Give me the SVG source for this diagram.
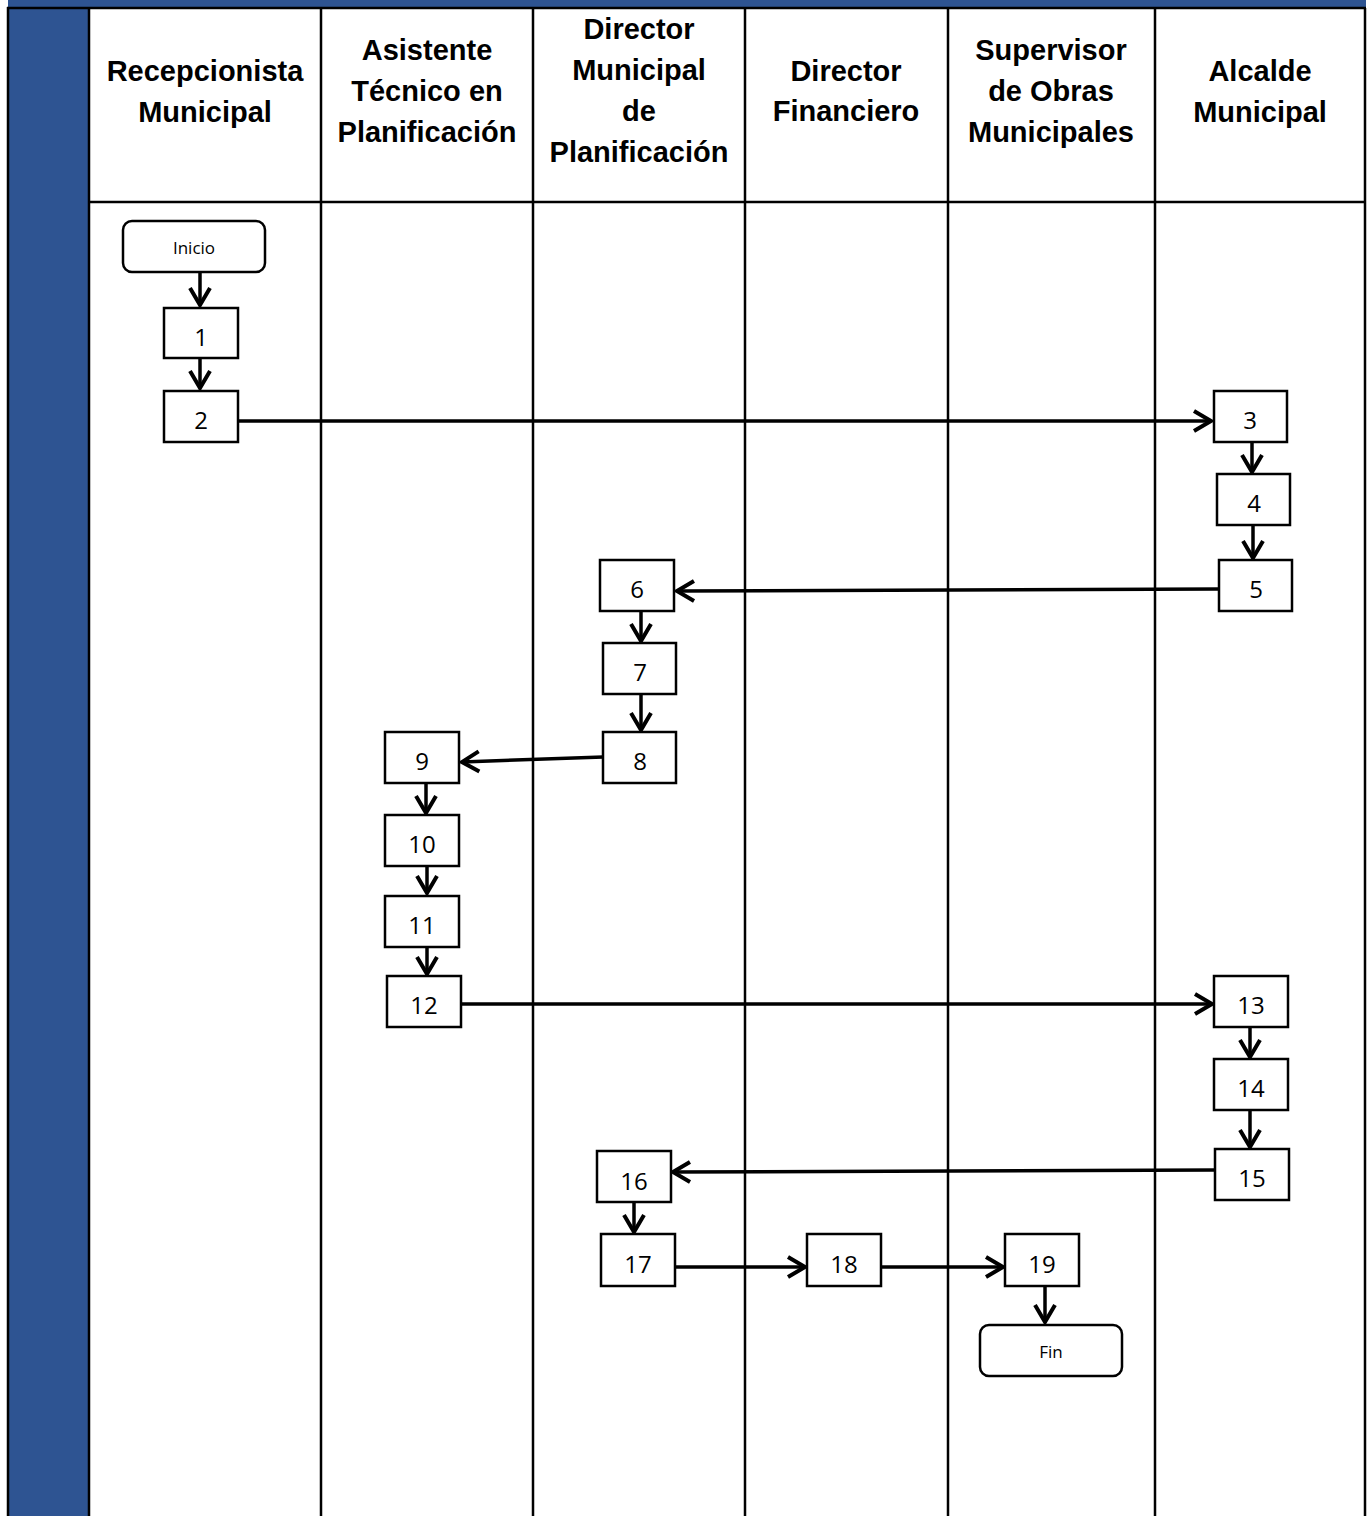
<svg xmlns="http://www.w3.org/2000/svg" width="1368" height="1516" viewBox="0 0 1368 1516">
<defs>
<style>
.hdr{font-family:"Liberation Sans",Arial,sans-serif;font-weight:bold;font-size:29px;fill:#000;text-anchor:middle}
.box{fill:#fff;stroke:#000;stroke-width:2.5}
.num{font-family:"Open Sans","Liberation Sans",sans-serif;font-size:24px;fill:#000;text-anchor:middle}
.term{font-family:"Open Sans","Liberation Sans",sans-serif;font-size:17px;fill:#000;text-anchor:middle}
.grid{stroke:#000;stroke-width:2.5;fill:none}
.con{stroke:#000;stroke-width:3.5;fill:none;marker-end:url(#arr)}
</style>
<marker id="arr" markerUnits="userSpaceOnUse" viewBox="-22 -14 26 28" refX="0" refY="0" markerWidth="26" markerHeight="28" orient="auto">
<path d="M-17,-10 L0,0 L-17,10" fill="none" stroke="#000" stroke-width="4" stroke-linejoin="miter"/>
</marker>
</defs>
<rect x="0" y="0" width="1368" height="1516" fill="#fff"/>
<g id="frame">
<rect x="8" y="0" width="1358" height="8" fill="#2E5492"/>
<rect x="8" y="8" width="81" height="1508" fill="#2E5492"/>
<line class="grid" x1="7" y1="8" x2="1366" y2="8"/>
<line class="grid" x1="8" y1="7" x2="8" y2="1516"/>
<line class="grid" x1="89" y1="8" x2="89" y2="1516"/>
<line class="grid" x1="321" y1="8" x2="321" y2="1516"/>
<line class="grid" x1="533" y1="8" x2="533" y2="1516"/>
<line class="grid" x1="745" y1="8" x2="745" y2="1516"/>
<line class="grid" x1="948" y1="8" x2="948" y2="1516"/>
<line class="grid" x1="1155" y1="8" x2="1155" y2="1516"/>
<line class="grid" x1="1365" y1="8" x2="1365" y2="1516"/>
<line class="grid" x1="89" y1="202" x2="1366" y2="202"/>
</g>
<g id="headers">
<text class="hdr" x="205" y="81">Recepcionista</text>
<text class="hdr" x="205" y="122">Municipal</text>
<text class="hdr" x="427" y="60">Asistente</text>
<text class="hdr" x="427" y="101">Técnico en</text>
<text class="hdr" x="427" y="142">Planificación</text>
<text class="hdr" x="639" y="39">Director</text>
<text class="hdr" x="639" y="80">Municipal</text>
<text class="hdr" x="639" y="121">de</text>
<text class="hdr" x="639" y="162">Planificación</text>
<text class="hdr" x="846" y="81">Director</text>
<text class="hdr" x="846" y="121">Financiero</text>
<text class="hdr" x="1051" y="60">Supervisor</text>
<text class="hdr" x="1051" y="101">de Obras</text>
<text class="hdr" x="1051" y="142">Municipales</text>
<text class="hdr" x="1260" y="81">Alcalde</text>
<text class="hdr" x="1260" y="122">Municipal</text>
</g>
<g id="connectors">
<line class="con" x1="200" y1="273" x2="200" y2="305"/>
<line class="con" x1="200" y1="358" x2="200" y2="388"/>
<line class="con" x1="238" y1="421" x2="1211" y2="421"/>
<line class="con" x1="1252" y1="442" x2="1252" y2="472"/>
<line class="con" x1="1253" y1="525" x2="1253" y2="558"/>
<line class="con" x1="1219" y1="589" x2="677" y2="591"/>
<line class="con" x1="641" y1="611" x2="641" y2="641"/>
<line class="con" x1="641" y1="694" x2="641" y2="730"/>
<line class="con" x1="603" y1="757" x2="462" y2="762"/>
<line class="con" x1="426" y1="783" x2="426" y2="813"/>
<line class="con" x1="427" y1="866" x2="427" y2="893"/>
<line class="con" x1="427" y1="947" x2="427" y2="974"/>
<line class="con" x1="461" y1="1004" x2="1212" y2="1004"/>
<line class="con" x1="1250" y1="1027" x2="1250" y2="1057"/>
<line class="con" x1="1250" y1="1110" x2="1250" y2="1147"/>
<line class="con" x1="1215" y1="1170" x2="673" y2="1172"/>
<line class="con" x1="634" y1="1202" x2="634" y2="1232"/>
<line class="con" x1="675" y1="1267" x2="805" y2="1267"/>
<line class="con" x1="881" y1="1267" x2="1003" y2="1267"/>
<line class="con" x1="1045" y1="1286" x2="1045" y2="1322"/>
</g>
<g id="inicio"><rect class="box" x="123" y="221" width="142" height="51" rx="9"/><text class="term" x="194" y="254">Inicio</text></g>
<g id="n1"><rect class="box" x="164" y="308" width="74" height="50"/><text class="num" x="201" y="346">1</text></g>
<g id="n2"><rect class="box" x="164" y="391" width="74" height="51"/><text class="num" x="201" y="429">2</text></g>
<g id="n3"><rect class="box" x="1214" y="391" width="73" height="51"/><text class="num" x="1250" y="429">3</text></g>
<g id="n4"><rect class="box" x="1217" y="474" width="73" height="51"/><text class="num" x="1254" y="512">4</text></g>
<g id="n5"><rect class="box" x="1219" y="560" width="73" height="51"/><text class="num" x="1256" y="598">5</text></g>
<g id="n6"><rect class="box" x="600" y="560" width="74" height="51"/><text class="num" x="637" y="598">6</text></g>
<g id="n7"><rect class="box" x="603" y="643" width="73" height="51"/><text class="num" x="640" y="681">7</text></g>
<g id="n8"><rect class="box" x="603" y="732" width="73" height="51"/><text class="num" x="640" y="770">8</text></g>
<g id="n9"><rect class="box" x="385" y="732" width="74" height="51"/><text class="num" x="422" y="770">9</text></g>
<g id="n10"><rect class="box" x="385" y="815" width="74" height="51"/><text class="num" x="422" y="853">10</text></g>
<g id="n11"><rect class="box" x="385" y="896" width="74" height="51"/><text class="num" x="422" y="934">11</text></g>
<g id="n12"><rect class="box" x="387" y="976" width="74" height="51"/><text class="num" x="424" y="1014">12</text></g>
<g id="n13"><rect class="box" x="1214" y="976" width="74" height="51"/><text class="num" x="1251" y="1014">13</text></g>
<g id="n14"><rect class="box" x="1214" y="1059" width="74" height="51"/><text class="num" x="1251" y="1097">14</text></g>
<g id="n15"><rect class="box" x="1215" y="1149" width="74" height="51"/><text class="num" x="1252" y="1187">15</text></g>
<g id="n16"><rect class="box" x="597" y="1151" width="74" height="51"/><text class="num" x="634" y="1190">16</text></g>
<g id="n17"><rect class="box" x="601" y="1234" width="74" height="52"/><text class="num" x="638" y="1273">17</text></g>
<g id="n18"><rect class="box" x="807" y="1234" width="74" height="52"/><text class="num" x="844" y="1273">18</text></g>
<g id="n19"><rect class="box" x="1005" y="1234" width="74" height="52"/><text class="num" x="1042" y="1273">19</text></g>
<g id="fin"><rect class="box" x="980" y="1325" width="142" height="51" rx="9"/><text class="term" x="1051" y="1358">Fin</text></g>
</svg>
